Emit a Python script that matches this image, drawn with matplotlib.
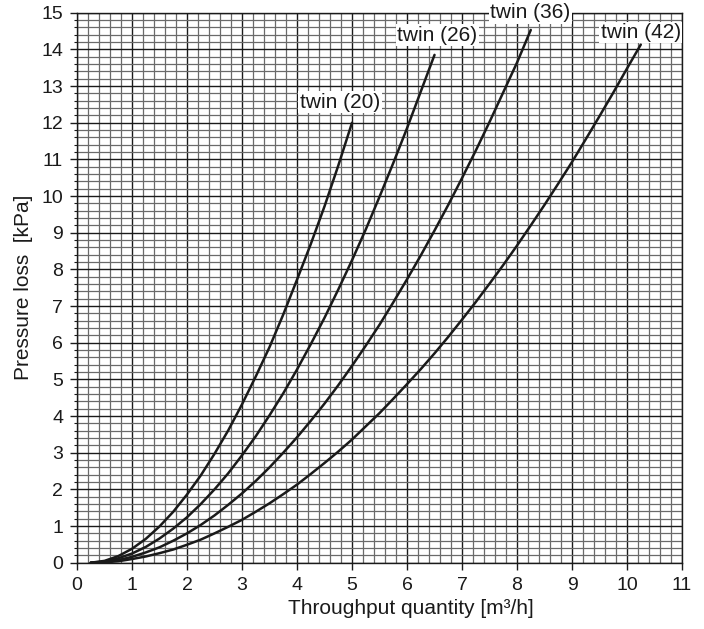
import matplotlib
matplotlib.use("Agg")
import matplotlib.pyplot as plt
from matplotlib.ticker import MultipleLocator

plt.rcParams['font.family'] = ['Liberation Sans', 'DejaVu Sans']

# Data (throughput m3/h, pressure loss kPa)
x_twin20 = [0.25, 0.5, 0.75, 1.0, 1.25, 1.5, 1.75, 2.0, 2.25, 2.5, 2.75, 3.0, 3.25, 3.5,
            3.75, 4.0, 4.25, 4.5, 4.75, 5.0]
y_twin20 = [0.0, 0.05, 0.18, 0.38, 0.65, 0.99, 1.39, 1.86, 2.38, 2.97, 3.61, 4.32, 5.08, 5.88,
            6.77, 7.72, 8.69, 9.72, 10.83, 12.0]

x_twin26 = [0.25, 0.5, 0.75, 1.0, 1.25, 1.5, 1.75, 2.0, 2.25, 2.5, 2.75, 3.0, 3.25, 3.5,
            3.75, 4.0, 4.25, 4.5, 4.75, 5.0, 5.25, 5.5, 5.75, 6.0, 6.25, 6.5]
y_twin26 = [0.0, 0.03, 0.12, 0.25, 0.43, 0.66, 0.93, 1.24, 1.60, 2.0, 2.44, 2.93, 3.45, 4.02,
            4.62, 5.27, 5.96, 6.68, 7.45, 8.25, 9.09, 9.98, 10.90, 11.85, 12.85, 13.85]

x_twin36 = [0.25, 0.5, 0.75, 1.0, 1.25, 1.5, 1.75, 2.0, 2.25, 2.5, 2.75, 3.0, 3.25, 3.5,
            3.75, 4.0, 4.25, 4.5, 4.75, 5.0, 5.25, 5.5, 5.75, 6.0, 6.25, 6.5, 6.75, 7.0,
            7.25, 7.5, 7.75, 8.0, 8.25]
y_twin36 = [0.0, 0.02, 0.07, 0.16, 0.28, 0.42, 0.60, 0.80, 1.03, 1.29, 1.58, 1.89, 2.23, 2.60,
            3.00, 3.42, 3.87, 4.34, 4.84, 5.37, 5.92, 6.49, 7.10, 7.73, 8.38, 9.06, 9.76, 10.49,
            11.24, 12.02, 12.83, 13.64, 14.53]

x_twin42 = [0.25, 0.5, 0.75, 1.0, 1.25, 1.5, 1.75, 2.0, 2.25, 2.5, 2.75, 3.0, 3.25, 3.5,
            3.75, 4.0, 4.25, 4.5, 4.75, 5.0, 5.25, 5.5, 5.75, 6.0, 6.25, 6.5, 6.75, 7.0,
            7.25, 7.5, 7.75, 8.0, 8.25, 8.5, 8.75, 9.0, 9.25, 9.5, 9.75, 10.0, 10.25]
y_twin42 = [0.0, 0.01, 0.04, 0.10, 0.17, 0.26, 0.36, 0.49, 0.63, 0.80, 0.98, 1.17, 1.39, 1.62,
            1.87, 2.13, 2.42, 2.72, 3.03, 3.36, 3.72, 4.08, 4.47, 4.87, 5.28, 5.71, 6.16, 6.63,
            7.11, 7.61, 8.12, 8.65, 9.20, 9.76, 10.34, 10.93, 11.55, 12.18, 12.82, 13.48, 14.13]

series_labels = ["twin (20)", "twin (26)", "twin (36)", "twin (42)"]
label_x = [4.78, 6.55, 8.24, 10.25]
label_y = [12.56, 14.38, 15.0, 14.46]

x_ticks = list(range(0, 12))
y_ticks = list(range(0, 16))

fig = plt.figure(figsize=(7.04, 6.29), dpi=100)
ax = fig.add_axes([0.1094, 0.1054, 0.8594, 0.8744])

ax.set_xlim(0, 11)
ax.set_ylim(0, 15)
ax.xaxis.set_minor_locator(MultipleLocator(0.2))
ax.yaxis.set_minor_locator(MultipleLocator(0.2))
ax.set_xticks(x_ticks)
ax.set_yticks(y_ticks)

ax.grid(which='minor', color='#6a6a6a', linewidth=0.9)
ax.grid(which='major', color='#1a1a1a', linewidth=1.0)
ax.set_axisbelow(True)

for xs, ys in [(x_twin20, y_twin20), (x_twin26, y_twin26), (x_twin36, y_twin36), (x_twin42, y_twin42)]:
    ax.plot(xs, ys, color='#1a1a1a', linewidth=1.8, solid_capstyle='round',
            solid_joinstyle='round', zorder=3)

for lab, lx, ly in zip(series_labels, label_x, label_y):
    ax.text(lx, ly, lab, ha='center', va='center', fontsize=15, color='#1a1a1a',
            bbox=dict(facecolor='white', edgecolor='none', pad=1.0), zorder=4, clip_on=False)

for s in ax.spines.values():
    s.set_color('#1a1a1a')
    s.set_linewidth(1.0)

ax.tick_params(axis='both', which='major', direction='out', length=5, width=1,
               labelsize=14, colors='#1a1a1a', pad=5)
ax.tick_params(axis='x', which='minor', length=0)
ax.tick_params(axis='y', which='minor', direction='out', length=2.5, width=0.8, colors='#1a1a1a')

ax.set_xlabel('Throughput quantity [m³/h]', fontsize=15, color='#1a1a1a', labelpad=4, x=0.552)
ax.set_ylabel('Pressure loss  [kPa]', fontsize=15, color='#1a1a1a', labelpad=6)

fig.savefig('out.png', dpi=100)
